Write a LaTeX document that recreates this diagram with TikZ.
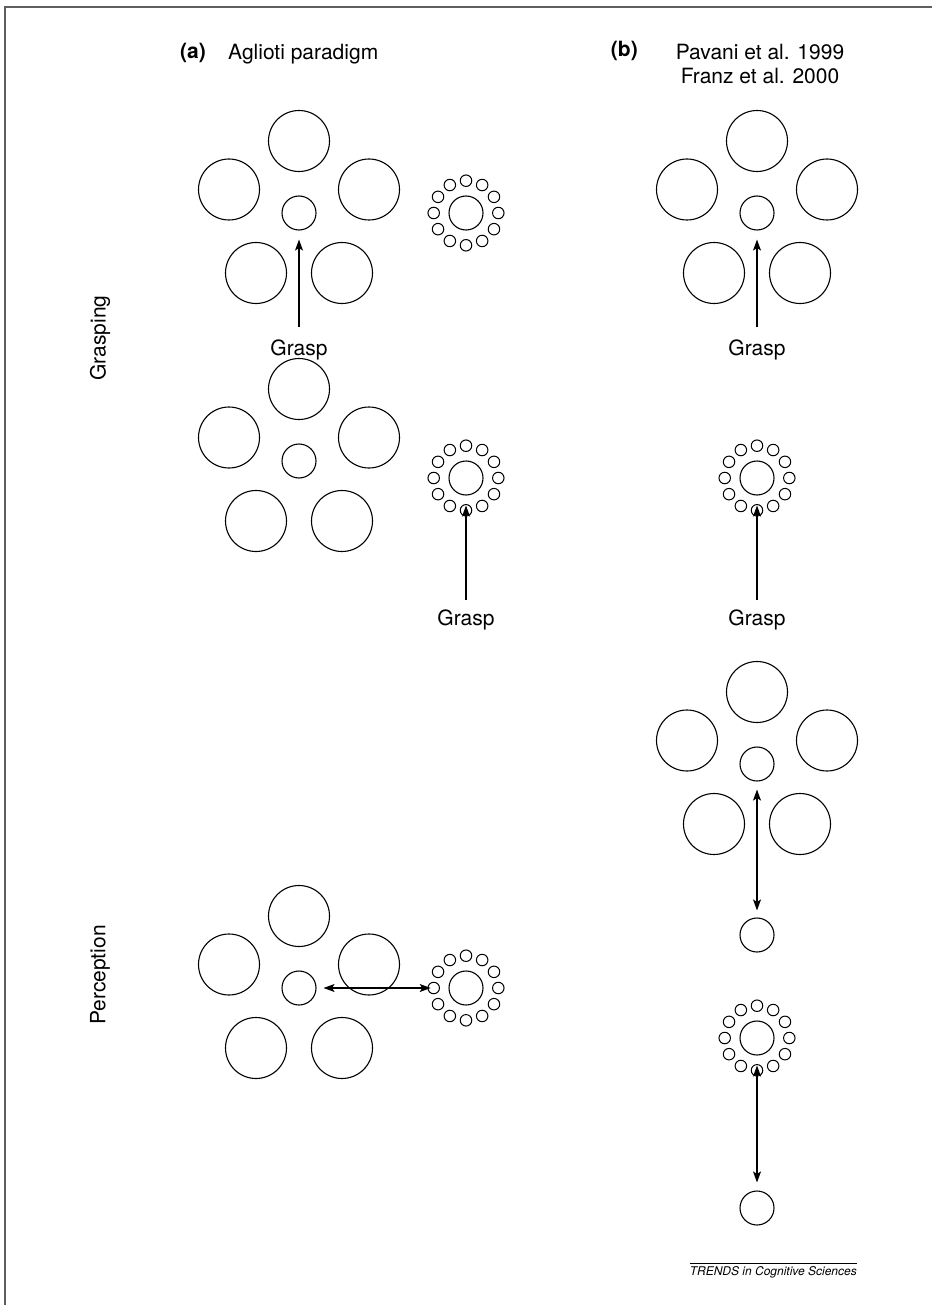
\documentclass[tikz,border=0pt]{standalone}
\usepackage{fontspec}
\setmainfont{TeX Gyre Heros}
\usepackage{tikz}
\usetikzlibrary{arrows.meta}
\definecolor{framegray}{RGB}{95,95,95}
\tikzset{
  bigc/.style ={draw, circle, minimum size=61pt, inner sep=0pt, line width=1.1pt},
  midc/.style ={draw, circle, minimum size=34pt, inner sep=0pt, line width=1.1pt},
  tinyc/.style={draw, circle, minimum size=11.5pt, inner sep=0pt, line width=1pt},
  lbl/.style  ={font=\fontsize{21}{25}\selectfont, inner sep=1pt},
  blbl/.style ={font=\fontsize{21}{25}\selectfont\bfseries, inner sep=1pt},
  arr/.style  ={-{Stealth[length=11pt,width=8pt,inset=2.5pt]}, line width=1.1pt},
  darr/.style ={{Stealth[length=11pt,width=8pt,inset=2.5pt]}-{Stealth[length=11pt,width=8pt,inset=2.5pt]},
                line width=1.1pt},
  flower/.pic={
    \node[midc] (-c)  at (0,0)       {};
    \node[bigc] (-t)  at (0,-72)     {};
    \node[bigc] (-l)  at (-70,-23.5) {};
    \node[bigc] (-r)  at (70,-23.5)  {};
    \node[bigc] (-bl) at (-43,60)    {};
    \node[bigc] (-br) at (43,60)     {};
  },
  ring/.pic={
    \node[midc] (-c) at (0,0) {};
    \foreach \i in {0,...,11}
      \node[tinyc] (-\i) at (\i*30:32.3) {};
  },
}
\begin{document}
\begin{tikzpicture}[x=1pt, y=-1pt]
  \useasboundingbox (0,0) rectangle (932,1305);
  \draw[framegray, line width=1.5pt] (5,1305) |- (932,7);

  % headings
  \node[blbl, anchor=base east] (ha) at (207,59) {(a)};
  \node[lbl, anchor=base west] (ta) at (227,60) {Aglioti paradigm};
  \node[blbl, anchor=base east] (hb) at (639,57) {(b)};
  \node[lbl, anchor=base] (tb1) at (760,60) {Pavani et al. 1999};
  \node[lbl, anchor=base] (tb2) at (760,84) {Franz et al. 2000};
  \node[lbl, rotate=90] (grasping) at (100,338) {Grasping};
  \node[lbl, rotate=90] (perception) at (100,975) {Perception};

  % grasping, row 1
  \pic (fa1) at (299,213) {flower};
  \pic (ra1) at (466,213) {ring};
  \node[lbl, anchor=base] (ga1) at (299,355) {Grasp};
  \pic (fb1) at (757,213) {flower};
  \node[lbl, anchor=base] (gb1) at (757,355) {Grasp};
  \draw[arr, shorten <=11pt, shorten >=9pt] (ga1) -- (fa1-c);
  \draw[arr, shorten <=11pt, shorten >=9pt] (gb1) -- (fb1-c);

  % grasping, row 2
  \pic (fa2) at (299,461) {flower};
  \pic (ra2) at (466,478) {ring};
  \node[lbl, anchor=base] (ga2) at (466,625) {Grasp};
  \pic (rb2) at (757,478) {ring};
  \node[lbl, anchor=base] (gb2) at (757,625) {Grasp};
  \draw[arr, shorten <=8pt, shorten >=10pt] (ga2) -- (ra2-c);
  \draw[arr, shorten <=8pt, shorten >=10pt] (gb2) -- (rb2-c);

  % perception
  \pic (fb3) at (757,764) {flower};
  \node[midc] (lb3) at (757,935) {};
  \draw[darr, shorten <=8pt, shorten >=7pt] (fb3-c) -- (lb3);

  \pic (fp) at (299,988) {flower};
  \pic (rp) at (466,988) {ring};
  \draw[darr, shorten <=7pt, shorten >=3pt] (fp-c) -- (rp-6.center);

  \pic (rb4) at (757,1038) {ring};
  \node[midc] (lb4) at (757,1208) {};
  \draw[darr, shorten <=10pt, shorten >=8pt] (rb4-c) -- (lb4);

  % source
  \node[font=\fontsize{12}{14}\selectfont\itshape, inner xsep=0pt, inner ysep=3pt,
        anchor=north east] (src) at (857,1263) {TRENDS in Cognitive Sciences};
  \draw[line width=0.7pt] (src.north west) -- (src.north east);
\end{tikzpicture}
\end{document}
